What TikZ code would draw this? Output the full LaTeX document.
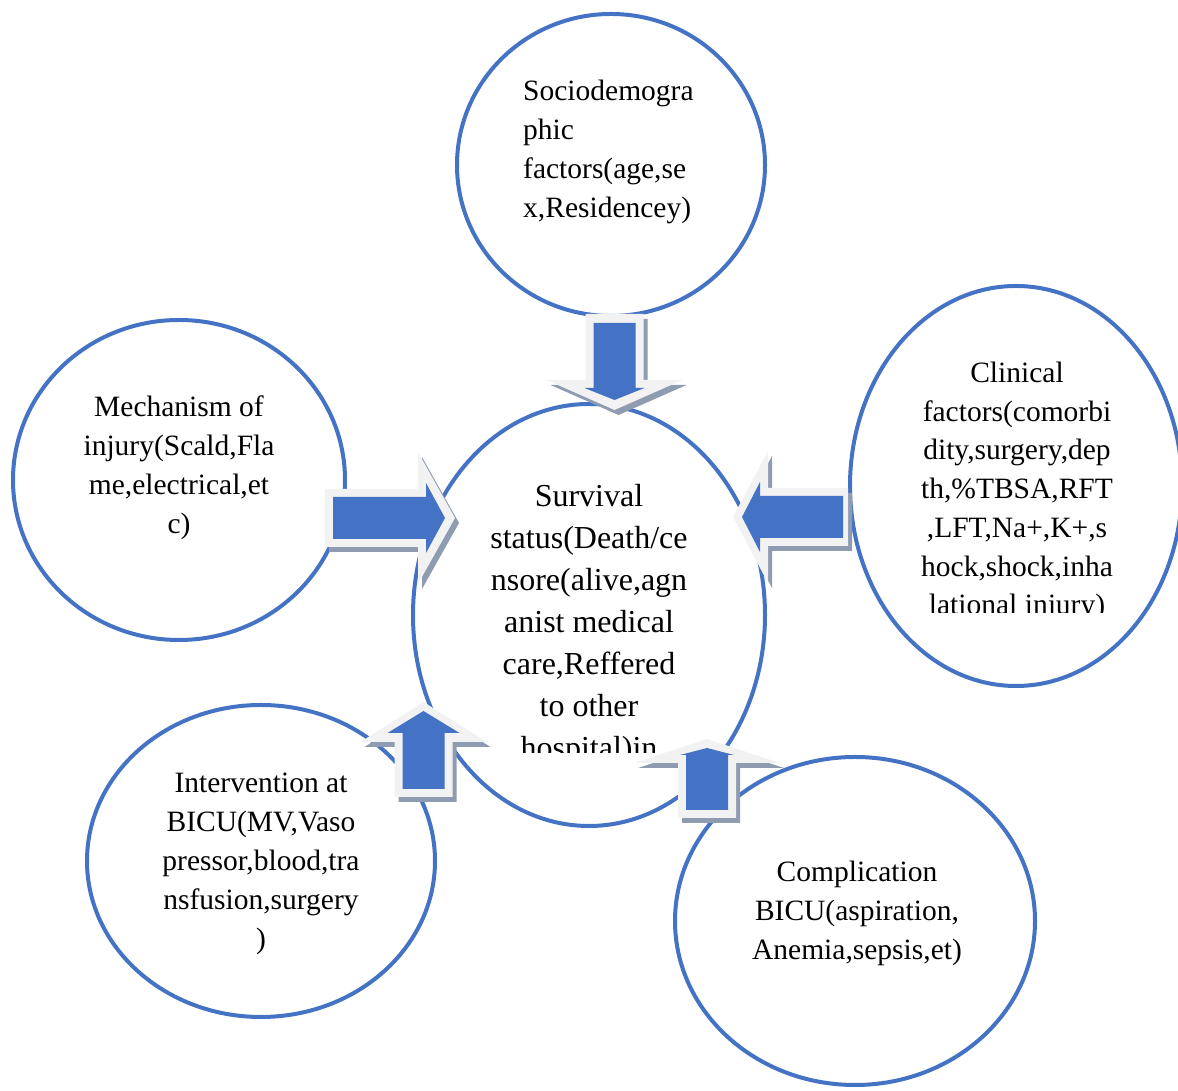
\documentclass[tikz,border=0pt]{standalone}
\usepackage{fontspec}
\setmainfont{Liberation Serif}
\usetikzlibrary{shapes.geometric}
\definecolor{ringc}{HTML}{4472C4}
\definecolor{arrowc}{HTML}{4472C4}
\definecolor{edgec}{HTML}{F2F2F2}
\definecolor{shadowc}{HTML}{8E9BB1}
\tikzset{
  ring/.style={ellipse, draw=ringc, line width=4pt, inner sep=0pt},
  txt/.style={font=\fontsize{29.5}{39}\selectfont, inner sep=0pt},
  ctxt/.style={font=\fontsize{32}{42}\selectfont, inner sep=0pt}
}
% #1 tail centre, #2 rotation, #3 length, #4 head back, #5 spike half width,
% #6 inner tail, #7 inner head back, #8 inner tip, #9 inner barb half width
\newcommand{\blkarrow}[9]{%
  \begin{scope}[shift={#1}, shift={(4,-5)}, rotate=#2]
    \fill[shadowc] (0,-29) -- (#4,-29) -- (#4,-#5) -- (#3,0) -- (#4,#5) -- (#4,29) -- (0,29) -- cycle;
  \end{scope}
  \begin{scope}[shift={#1}, rotate=#2]
    \fill[edgec] (0,-29) -- (#4,-29) -- (#4,-#5) -- (#3,0) -- (#4,#5) -- (#4,29) -- (0,29) -- cycle;
    \fill[arrowc] (#6,-21) -- (#7,-21) -- (#7,-#9) -- (#8,0) -- (#7,#9) -- (#7,21) -- (#6,21) -- cycle;
  \end{scope}}
\begin{document}
\begin{tikzpicture}[x=1pt, y=1pt]
\useasboundingbox (0,0) rectangle (1178,1091);
% rings
\node[ring, minimum width=308pt, minimum height=302pt] (socio) at (611,926) {};
\node[ring, minimum width=352pt, minimum height=422pt] (surv) at (589,476) {};
\node[ring, minimum width=332pt, minimum height=320pt] (mech) at (179,611) {};
\node[ring, minimum width=332pt, minimum height=400pt] (clin) at (1016,605) {};
\node[ring, minimum width=348pt, minimum height=312pt] (interv) at (261,230) {};
\node[ring, minimum width=360pt, minimum height=328pt] (compl) at (855,170) {};
% texts
\node[txt, anchor=base west] (s1) at (523,990) {Sociodemogra};
\node[txt, anchor=base west] (s2) at (523,951) {phic};
\node[txt, anchor=base west] (s3) at (523,912) {factors(age,se};
\node[txt, anchor=base west] (s4) at (523,873) {x,Residencey)};
\node[txt, anchor=base] (m1) at (179,674) {Mechanism of};
\node[txt, anchor=base] (m2) at (179,635) {injury(Scald,Fla};
\node[txt, anchor=base] (m3) at (179,596) {me,electrical,et};
\node[txt, anchor=base] (m4) at (179,557) {c)};
\begin{scope}
\clip (850,478) rectangle (1178,740);
\node[txt, anchor=base] (c1) at (1017,708) {Clinical};
\node[txt, anchor=base] (c2) at (1017,669) {factors(comorbi};
\node[txt, anchor=base] (c3) at (1017,631) {dity,surgery,dep};
\node[txt, anchor=base] (c4) at (1017,592) {th,\%TBSA,RFT};
\node[txt, anchor=base] (c5) at (1017,553) {,LFT,Na+,K+,s};
\node[txt, anchor=base] (c6) at (1017,514) {hock,shock,inha};
\node[txt, anchor=base] (c7) at (1017,476) {lational injury)};
\end{scope}
\begin{scope}
\clip (420,338) rectangle (760,640);
\node[ctxt, anchor=base] (v1) at (589,584) {Survival};
\node[ctxt, anchor=base] (v2) at (589,542) {status(Death/ce};
\node[ctxt, anchor=base] (v3) at (589,500) {nsore(alive,agn};
\node[ctxt, anchor=base] (v4) at (589,458) {anist medical};
\node[ctxt, anchor=base] (v5) at (589,416) {care,Reffered};
\node[ctxt, anchor=base] (v6) at (589,374) {to other};
\node[ctxt, anchor=base] (v7) at (589,332) {hospital)in};
\end{scope}
\node[txt, anchor=base] (i1) at (261,298) {Intervention at};
\node[txt, anchor=base] (i2) at (261,259) {BICU(MV,Vaso};
\node[txt, anchor=base] (i3) at (261,220) {pressor,blood,tra};
\node[txt, anchor=base] (i4) at (261,181) {nsfusion,surgery};
\node[txt, anchor=base] (i5) at (261,142) {)};
\node[txt, anchor=base] (k1) at (857,209) {Complication};
\node[txt, anchor=base] (k2) at (857,170) {BICU(aspiration,};
\node[txt, anchor=base] (k3) at (857,131) {Anemia,sepsis,et)};
% block arrows
\blkarrow{(614.5,777)}{-90}{96}{66}{68}{9}{74}{86}{30}
\blkarrow{(325,573)}{0}{130}{93}{66}{8}{101}{120}{35}
\blkarrow{(848,574)}{180}{115}{80}{66}{5}{88}{106}{35}
\blkarrow{(423.5,294)}{90}{95}{55}{63}{8}{64}{86}{36}
\blkarrow{(707,273)}{90}{79}{55}{73}{8}{63}{70}{27}
\end{tikzpicture}
\end{document}
